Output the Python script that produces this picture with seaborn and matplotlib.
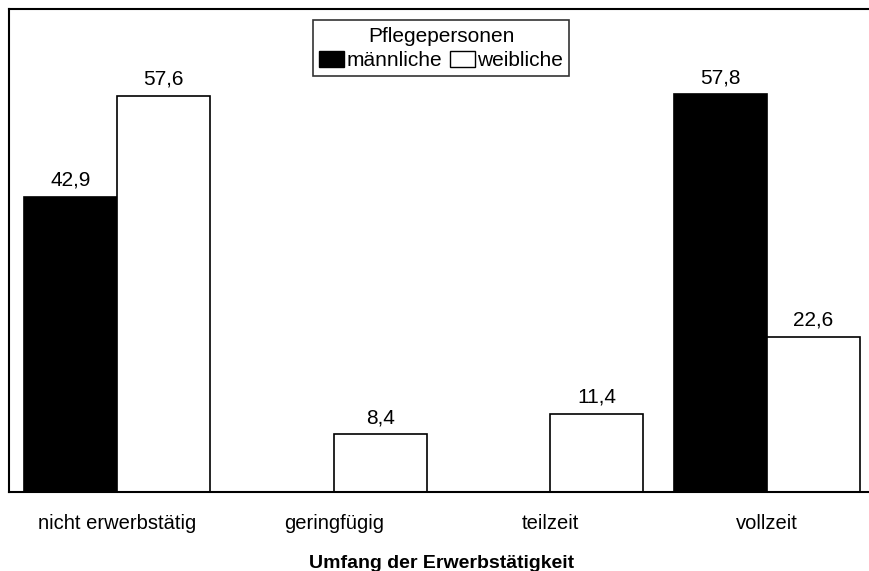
import numpy as np
import pandas as pd
import seaborn as sns
import matplotlib.pyplot as plt
from matplotlib.patches import Patch

# categories and values (percent)
categories = ['nicht erwerbstätig', 'geringfügig', 'teilzeit', 'vollzeit']
maennlich = [42.9, np.nan, np.nan, 57.8]
weiblich = [57.6, 8.4, 11.4, 22.6]
series = ['männliche', 'weibliche']

sns.set_theme(style='white')
plt.rcParams['font.family'] = ['Liberation Sans', 'DejaVu Sans']
plt.rcParams['text.color'] = 'black'
plt.rcParams['xtick.color'] = 'black'
plt.rcParams['axes.labelcolor'] = 'black'

# long format for seaborn, drop missing bars
df = pd.DataFrame({
  'Umfang': categories * 2,
  'Wert': maennlich + weiblich,
  'Geschlecht': [series[0]] * 4 + [series[1]] * 4,
})
df = df.dropna()

fig = plt.figure(figsize=(8.7, 5.71), dpi=100)
ax = fig.add_axes([9/870, 79/571, 866/870, 483/571])

sns.barplot(data=df, x='Umfang', y='Wert', hue='Geschlecht',
            order=categories, hue_order=series,
            palette=['black', 'white'], edgecolor='black', linewidth=1.2,
            width=0.86, ax=ax, legend=False)

# value labels with decimal comma
for cont in ax.containers:
  labels = [f'{b.get_height():.1f}'.replace('.', ',') for b in cont]
  ax.bar_label(cont, labels=labels, padding=5, fontsize=15, color='black')

ax.set_xlim(-0.5, 3.5)
ax.set_ylim(0, 70.2)
ax.set_yticks([])
ax.set_ylabel('')
ax.tick_params(axis='x', length=0, pad=16, labelsize=14.5)
ax.set_xlabel('Umfang der Erwerbstätigkeit', fontsize=14, fontweight='bold',
              labelpad=16)

for side in ['left', 'top', 'bottom']:
  ax.spines[side].set_color('black')
  ax.spines[side].set_linewidth(1.5)
ax.spines['right'].set_visible(False)

handles = [Patch(facecolor='black', edgecolor='black'),
           Patch(facecolor='white', edgecolor='black')]
leg = ax.legend(handles, series, title='Pflegepersonen', ncol=2,
                loc='upper center', bbox_to_anchor=(432/866, 0.985),
                fontsize=15, title_fontsize=15, frameon=True,
                fancybox=False, edgecolor='black', handlelength=1.2,
                handleheight=0.8, handletextpad=0.1, columnspacing=0.4,
                borderpad=0.3, borderaxespad=0.2, labelspacing=0.25)
leg.get_frame().set_linewidth(1.2)

plt.savefig('out.png', dpi=100)
